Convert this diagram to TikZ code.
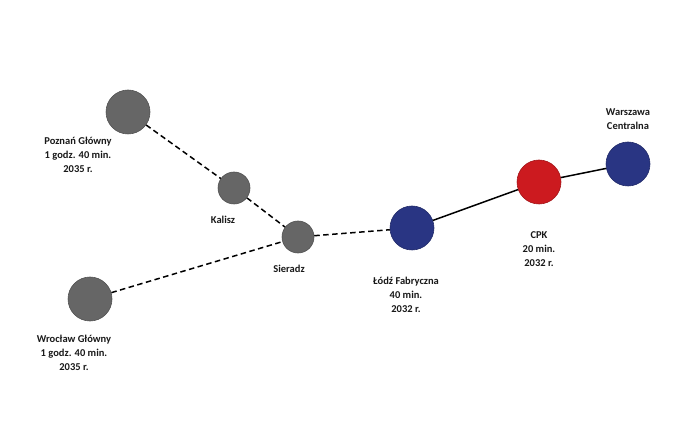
\documentclass[tikz,border=0pt]{standalone}
\usepackage{fontspec}
\setmainfont{Carlito}
\begin{document}
\begin{tikzpicture}[x=1pt,y=-1pt,
  big/.style={circle,draw=#1!80!black,fill=#1,line width=0.6pt,minimum size=44pt,inner sep=0pt},
  small/.style={circle,draw=grayc!80!black,fill=grayc,line width=0.6pt,minimum size=32pt,inner sep=0pt},
  lbl/.style={font=\bfseries\fontsize{10.5}{14}\selectfont,align=center,text=black!90},
  dashline/.style={dash pattern=on 5.5pt off 3.5pt,line width=1.5pt},
  solidline/.style={line width=1.5pt}]
\definecolor{grayc}{HTML}{666666}
\definecolor{bluec}{HTML}{293583}
\definecolor{redc}{HTML}{CC1A1F}
\useasboundingbox (0,0) rectangle (687,443);
\node[big=grayc] (poz) at (128,112) {};
\node[small] (kal) at (234,188) {};
\node[small] (sie) at (298,237) {};
\node[big=grayc] (wro) at (90,299) {};
\node[big=bluec] (lod) at (412,228) {};
\node[big=redc] (cpk) at (539,182) {};
\node[big=bluec] (war) at (628,164) {};
\draw[dashline] (poz) -- (kal);
\draw[dashline] (kal) -- (sie);
\draw[dashline] (wro) -- (sie);
\draw[dashline] (sie) -- (lod);
\draw[solidline] (lod) -- (cpk);
\draw[solidline] (cpk) -- (war);
\node[lbl] (lpoz) at (78,155) {Poznań Główny\\1 godz. 40 min.\\2035 r.};
\node[lbl] (lkal) at (223,220) {Kalisz};
\node[lbl] (lsie) at (289,269) {Sieradz};
\node[lbl] (lwro) at (74,353) {Wrocław Główny\\1 godz. 40 min.\\2035 r.};
\node[lbl] (llod) at (406,295) {Łódź Fabryczna\\40 min.\\2032 r.};
\node[lbl] (lcpk) at (539,249) {CPK\\20 min.\\2032 r.};
\node[lbl] (lwar) at (628,119) {Warszawa\\Centralna};
\end{tikzpicture}
\end{document}
